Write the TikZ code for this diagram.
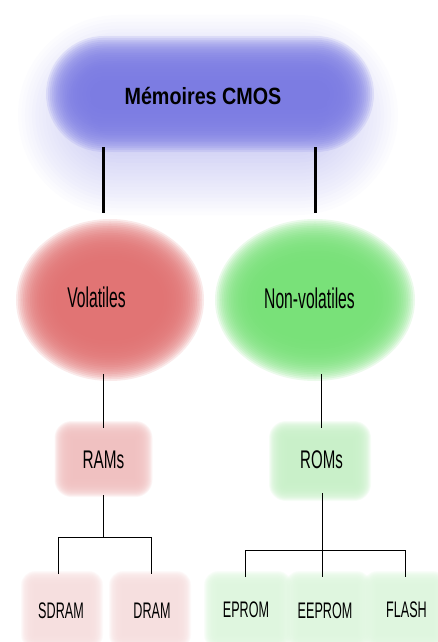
\documentclass[tikz,border=0pt]{standalone}
\usepackage{fontspec}
\setmainfont{Liberation Sans}
\usepackage{graphicx}
\definecolor{cblue}{RGB}{122,122,226}
\definecolor{cred}{RGB}{224,113,113}
\definecolor{cgreen}{RGB}{118,224,118}
\definecolor{cpink}{RGB}{240,192,192}
\definecolor{clgreen}{RGB}{200,240,200}
\definecolor{cpalepink}{RGB}{246,222,222}
\definecolor{cpalegreen}{RGB}{222,246,222}
\newcommand\sq[3]{\scalebox{#1}[1]{\fontsize{#2}{#2}\selectfont #3}}
% blurred rounded rectangle: cx, cy, hw, hh, radius, blur, color, opacity
\newcommand\blurbox[8]{%
  \foreach \k in {0,...,23}{%
    \pgfmathsetmacro\e{#6*(1-\k/11.5)}%
    \pgfmathsetmacro\rr{max(#5+\e,0.5)}%
    \fill[#7, opacity=#8, rounded corners=\rr pt]
      ({#1-#3-(\e)},{#2-#4-(\e)}) rectangle ({#1+#3+(\e)},{#2+#4+(\e)});
  }}
% blurred ellipse: cx, cy, rx, ry, blur, color
\newcommand\blurell[6]{%
  \foreach \k in {0,...,23}{%
    \pgfmathsetmacro\e{#5*(1-\k/11.5)}%
    \pgfmathsetmacro\rx{#3+\e}%
    \pgfmathsetmacro\ry{#4+\e}%
    \fill[#6, opacity=0.15] (#1,#2) ellipse [x radius=\rx pt, y radius=\ry pt];
  }}
\tikzset{
  lbl/.style={inner sep=0pt, anchor=base, text=black},
  heavy/.style={line width=3pt, black},
  thin/.style={line width=0.9pt, black}
}
\begin{document}
\begin{tikzpicture}[x=1pt,y=-1pt]
\useasboundingbox (0,0) rectangle (438,642);
% blurred backgrounds
\blurbox{208}{115}{150}{60}{60}{40}{cblue}{0.02}
\blurbox{210}{94}{142}{36}{36}{22}{cblue}{0.15}
\blurell{110}{300}{74}{61}{20}{cred}
\blurell{315}{300}{80}{61}{20}{cgreen}
\blurbox{103.5}{459}{40}{29}{8}{9}{cpink}{0.15}
\blurbox{320}{461}{42}{31}{8}{9}{clgreen}{0.15}
\blurbox{62}{610}{33}{31}{6}{8}{cpalepink}{0.15}
\blurbox{150}{610}{33}{31}{6}{8}{cpalepink}{0.15}
\blurbox{248}{610}{36}{31}{6}{8}{cpalegreen}{0.15}
\blurbox{328}{610}{35}{31}{6}{8}{cpalegreen}{0.15}
\blurbox{405}{610}{34}{31}{6}{8}{cpalegreen}{0.15}
% texts
\node[lbl] (title) at (203,104) {\sq{0.84}{23.5}{\bfseries Mémoires CMOS}};
\node[lbl] (vol) at (96.5,307) {\sq{0.55}{28.5}{Volatiles}};
\node[lbl] (nvol) at (309.5,308) {\sq{0.55}{28.5}{Non-volatiles}};
\node[lbl] (rams) at (103.5,468) {\sq{0.6}{25.5}{RAMs}};
\node[lbl] (roms) at (321.5,468) {\sq{0.59}{25.5}{ROMs}};
\node[lbl] (sdram) at (61,618) {\sq{0.56}{22.5}{SDRAM}};
\node[lbl] (dram) at (152,618) {\sq{0.56}{22.5}{DRAM}};
\node[lbl] (eprom) at (246,617) {\sq{0.56}{22.5}{EPROM}};
\node[lbl] (eeprom) at (325,618.5) {\sq{0.56}{22.5}{EEPROM}};
\node[lbl] (flash) at (406.5,617) {\sq{0.56}{22.5}{FLASH}};
% connector end points
\coordinate (ta) at (103,147); \coordinate (va) at (103,213);
\coordinate (tb) at (315,147); \coordinate (nb) at (315,213);
\coordinate (vb) at (103,374); \coordinate (ra) at (103,428);
\coordinate (nc) at (321,374); \coordinate (ro) at (321,428);
\coordinate (rb) at (103,495); \coordinate (rj) at (103,537);
\coordinate (sj) at (58,537); \coordinate (sd) at (58,574);
\coordinate (dj) at (151,537); \coordinate (dd) at (151,574);
\coordinate (rob) at (322,493); \coordinate (ee) at (322,577);
\coordinate (ej) at (245,550); \coordinate (ep) at (245,577);
\coordinate (fj) at (405,550); \coordinate (fl) at (405,577);
% connectors
\draw[heavy] (ta) -- (va);
\draw[heavy] (tb) -- (nb);
\draw[thin] (vb) -- (ra);
\draw[thin] (nc) -- (ro);
\draw[thin] (rb) -- (rj);
\draw[thin] (sd) -- (sj) -- (dj) -- (dd);
\draw[thin] (rob) -- (ee);
\draw[thin] (ep) -- (ej) -- (fj) -- (fl);
\end{tikzpicture}
\end{document}
